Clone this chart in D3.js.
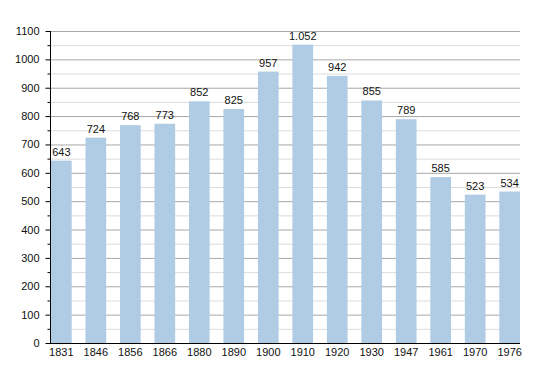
<!DOCTYPE html>
<html>
<head>
<meta charset="utf-8">
<script src="https://cdn.jsdelivr.net/npm/d3@7"></script>
<style>
  body { margin: 0; background: #fff; }
  text { font-family: "Liberation Sans", Arial, sans-serif; }
</style>
</head>
<body>
<svg id="canvas" width="550" height="373"></svg>
<script>
const years = ["1831", "1846", "1856", "1866", "1880", "1890", "1900", "1910", "1920", "1930", "1947", "1961", "1970", "1976"];
const population = [643, 724, 768, 773, 852, 825, 957, 1052, 942, 855, 789, 585, 523, 534];
const value_labels = ["643", "724", "768", "773", "852", "825", "957", "1.052", "942", "855", "789", "585", "523", "534"];
const y_ticks = [0, 100, 200, 300, 400, 500, 600, 700, 800, 900, 1000, 1100];

const plot_left = 51, plot_right = 520, plot_top = 31, plot_bottom = 343;

const svg = d3.select("svg#canvas");

const x = d3.scaleBand()
    .domain(years)
    .range([plot_left, plot_right])
    .paddingInner(0.4)
    .paddingOuter(0);

const y = d3.scaleLinear()
    .domain([0, 1100])
    .range([plot_bottom, plot_top]);

// minor grid every 50
svg.append("g")
    .selectAll("line")
    .data(d3.range(50, 1100, 100))
    .join("line")
    .attr("x1", plot_left).attr("x2", plot_right)
    .attr("y1", d => y(d) + 0.5).attr("y2", d => y(d) + 0.5)
    .attr("stroke", "#dcdcdc");

// major grid
svg.append("g")
    .selectAll("line")
    .data(y_ticks.slice(1))
    .join("line")
    .attr("x1", plot_left).attr("x2", plot_right)
    .attr("y1", d => y(d) + 0.5).attr("y2", d => y(d) + 0.5)
    .attr("stroke", "#a8a8a8");

svg.append("g")
    .selectAll("rect")
    .data(population)
    .join("rect")
    .attr("x", (_, i) => x(years[i]))
    .attr("y", d => y(d))
    .attr("width", x.bandwidth())
    .attr("height", d => plot_bottom - y(d))
    .attr("fill", "#b0cbe4");

svg.append("g")
    .selectAll("text")
    .data(population)
    .join("text")
    .attr("x", (_, i) => x(years[i]) + x.bandwidth() / 2)
    .attr("y", d => y(d) - 5)
    .attr("text-anchor", "middle")
    .attr("font-size", 11)
    .attr("fill", "#111")
    .text((_, i) => value_labels[i]);

// y axis
const yAxis = svg.append("g")
    .attr("transform", `translate(${plot_left - 0.5},0)`)
    .call(d3.axisLeft(y).tickValues(y_ticks).tickSize(5).tickPadding(6).tickFormat(d3.format("d")));
yAxis.select(".domain").attr("stroke", "#000").attr("d", `M0,${plot_top}V${plot_bottom}`);
yAxis.selectAll("text").attr("font-size", 11).attr("fill", "#111").attr("font-family", "Liberation Sans, Arial, sans-serif");

svg.append("g")
    .attr("transform", `translate(${plot_left - 0.5},0)`)
    .selectAll("line")
    .data(d3.range(50, 1100, 100))
    .join("line")
    .attr("x1", -3).attr("x2", 0)
    .attr("y1", d => y(d) + 0.5).attr("y2", d => y(d) + 0.5)
    .attr("stroke", "#000");

// x axis
const xAxis = svg.append("g")
    .attr("transform", `translate(0,${plot_bottom + 0.5})`)
    .call(d3.axisBottom(x).tickSize(0).tickPadding(5));
xAxis.select(".domain").attr("stroke", "#000").attr("d", `M${plot_left - 1},0H${plot_right}`);
xAxis.selectAll("text").attr("font-size", 11).attr("fill", "#111").attr("font-family", "Liberation Sans, Arial, sans-serif");
</script>
</body>
</html>
